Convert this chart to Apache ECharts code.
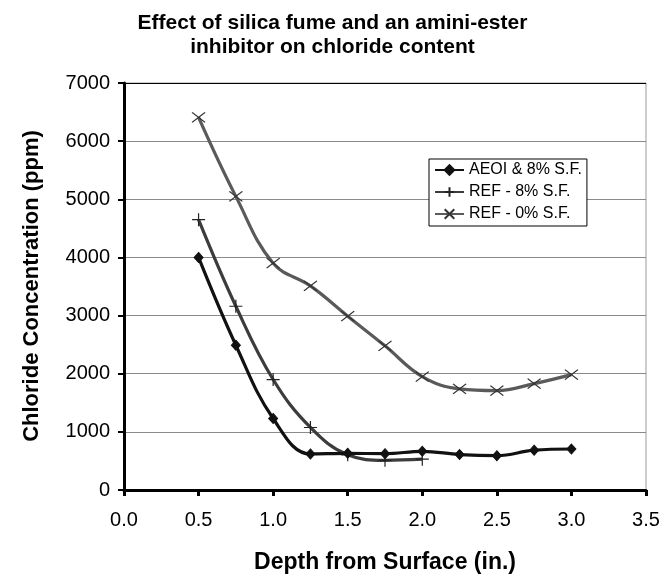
<!DOCTYPE html>
<html>
<head>
<meta charset="utf-8">
<script src="https://cdn.jsdelivr.net/npm/echarts@6/dist/echarts.min.js"></script>
<style>
html,body{margin:0;padding:0;background:#fff;}
#chart{width:665px;height:582px;}
</style>
</head>
<body>
<div id="chart"></div>
<script>
// Data
var depthsLong = [0.5, 0.75, 1.0, 1.25, 1.5, 1.75, 2.0, 2.25, 2.5, 2.75, 3.0];
var depthsShort = [0.5, 0.75, 1.0, 1.25, 1.5, 1.75, 2.0];
var aeoi8 = [4000, 2490, 1230, 620, 630, 625, 665, 610, 590, 685, 705];
var ref8 = [4650, 3160, 1900, 1075, 605, 510, 530];
var ref0 = [6410, 5050, 3900, 3510, 2990, 2480, 1950, 1740, 1710, 1830, 1985];
var seriesNames = ['AEOI & 8% S.F.', 'REF - 8% S.F.', 'REF - 0% S.F.'];
var xTicks = [0, 0.5, 1.0, 1.5, 2.0, 2.5, 3.0, 3.5];
var yTicks = [0, 1000, 2000, 3000, 4000, 5000, 6000, 7000];

function pairs(xs, ys) { return ys.map(function (v, i) { return [xs[i], v]; }); }

var FONT = 'Liberation Sans, Arial, sans-serif';
var chart = echarts.init(document.getElementById('chart'), null, {renderer: 'canvas'});
var splitColors = yTicks.map(function (t, i) { return i === yTicks.length - 1 ? '#000' : '#8a8a8a'; });

chart.setOption({
  backgroundColor: '#fff',
  animation: false,
  textStyle: {fontFamily: FONT},
  title: {
    text: 'Effect of silica fume and an amini-ester\ninhibitor on chloride content',
    left: 'center',
    top: 6,
    textStyle: {fontFamily: FONT, fontSize: 21, fontWeight: 'bold', color: '#000', lineHeight: 24}
  },
  grid: {left: 124, right: 19, top: 83, bottom: 92, show: true, borderColor: '#9a9a9a', borderWidth: 1, backgroundColor: 'transparent'},
  legend: {
    orient: 'vertical',
    left: 429,
    top: 159,
    padding: [3, 5, 4, 5],
    itemGap: 6,
    itemWidth: 29,
    itemHeight: 12,
    backgroundColor: '#fff',
    borderColor: '#000',
    borderWidth: 1,
    textStyle: {fontFamily: FONT, fontSize: 16, color: '#000'},
    data: seriesNames
  },
  xAxis: {
    type: 'value', min: xTicks[0], max: xTicks[xTicks.length - 1], interval: 0.5,
    axisLine: {lineStyle: {color: '#000', width: 3}},
    axisTick: {show: true, inside: false, length: 6, lineStyle: {color: '#000', width: 3}},
    axisLabel: {margin: 20, fontSize: 20, color: '#000', fontFamily: FONT, formatter: function (v) { return v.toFixed(1); }},
    splitLine: {show: false}
  },
  yAxis: {
    type: 'value', min: yTicks[0], max: yTicks[yTicks.length - 1], interval: 1000,
    axisLine: {show: true, lineStyle: {color: '#000', width: 3}},
    axisTick: {show: true, inside: false, length: 6, lineStyle: {color: '#000', width: 2}},
    axisLabel: {margin: 14, fontSize: 20, color: '#000', fontFamily: FONT, formatter: function (v) { return String(v); }},
    splitLine: {show: true, lineStyle: {color: splitColors, width: 1}}
  },
  graphic: [
    {type: 'text', x: 32, y: 286, rotation: Math.PI / 2,
     style: {text: 'Chloride Concentration (ppm)', font: 'bold 22px ' + FONT, fill: '#000', textAlign: 'center', textVerticalAlign: 'middle'}},
    {type: 'text', x: 385, y: 563,
     style: {text: 'Depth from Surface (in.)', font: 'bold 23px ' + FONT, fill: '#000', textAlign: 'center', textVerticalAlign: 'middle'}}
  ],
  series: [
    {
      name: seriesNames[0], type: 'line', smooth: 0.4, data: pairs(depthsLong, aeoi8),
      symbol: 'diamond', symbolSize: [9, 10], z: 5,
      lineStyle: {color: '#111', width: 3.2},
      itemStyle: {color: '#111', borderColor: '#111', borderWidth: 1}
    },
    {
      name: seriesNames[1], type: 'line', smooth: 0.4, data: pairs(depthsShort, ref8),
      symbol: 'path://M5,0L5,10M0,5L10,5', symbolSize: [13, 13], z: 4,
      lineStyle: {color: '#3c3c3c', width: 3.2},
      itemStyle: {color: '#3c3c3c', borderColor: '#222', borderWidth: 1.2}
    },
    {
      name: seriesNames[2], type: 'line', smooth: 0.4, data: pairs(depthsLong, ref0),
      symbol: 'path://M0,0L10,10M10,0L0,10', symbolSize: [13, 10], z: 3,
      lineStyle: {color: '#5a5a5a', width: 3.2},
      itemStyle: {color: '#5a5a5a', borderColor: '#333', borderWidth: 1.2}
    }
  ]
});
</script>
</body>
</html>
